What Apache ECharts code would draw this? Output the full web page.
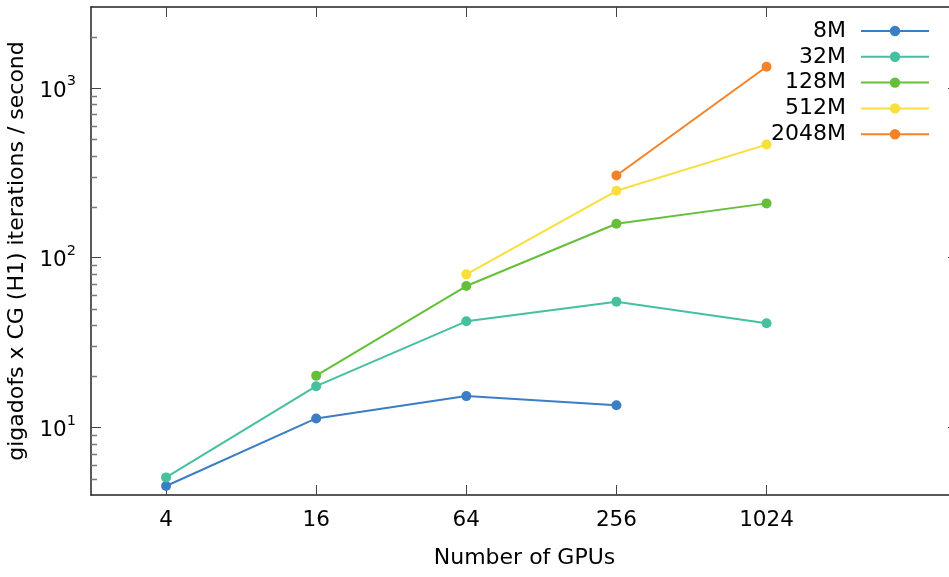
<!DOCTYPE html>
<html><head><meta charset="utf-8">
<script src="https://cdn.jsdelivr.net/npm/echarts@6/dist/echarts.min.js"></script>
<style>html,body{margin:0;padding:0;background:#fff}#c{width:949px;height:577px}</style>
</head><body><div id="c"></div>
<script>
// ---- data ----
const gpus = [4, 16, 64, 256, 1024];
const seriesNames = ['8M', '32M', '128M', '512M', '2048M'];
const v8M    = [4.52, 11.3, 15.3, 13.5, null];
const v32M   = [5.08, 17.5, 42.2, 55.1, 41.1];
const v128M  = [null, 20.2, 68.1, 158.5, 209];
const v512M  = [null, null, 79.8, 248, 464];
const v2048M = [null, null, null, 305, 1334];
const xTickValues = [4, 16, 64, 256, 1024];
const yMajorTicks = [10, 100, 1000];
const yMinorTicks = [5, 6, 7, 8, 9, 20, 30, 40, 50, 60, 70, 80, 90, 200, 300, 400, 500, 600, 700, 800, 900, 2000];
const xTitle = 'Number of GPUs';
const yTitle = 'gigadofs x CG (H1) iterations / second';

const allValues = [v8M, v32M, v128M, v512M, v2048M];
const colors = ['#3b7ec6', '#45c0a0', '#66bf3b', '#f8df3c', '#f58226'];

const X_MIN = 2, X_MAX = 6000, Y_MIN = 4, Y_MAX = 3000;
const FONT = 'DejaVu Sans';

const chart = echarts.init(document.getElementById('c'), null, {renderer: 'canvas'});

const lineSeries = seriesNames.map((name, i) => ({
  name: name,
  type: 'line',
  xAxisIndex: 0, yAxisIndex: 0,
  data: gpus.map((g, j) => allValues[i][j] == null ? null : [g, allValues[i][j]]).filter(d => d),
  symbol: 'circle',
  symbolSize: 10,
  showSymbol: true,
  lineStyle: {width: 2, color: colors[i]},
  itemStyle: {color: colors[i]},
  emphasis: {disabled: true},
  animation: false,
  z: 3
}));

const minorTickSeries = {
  type: 'custom',
  xAxisIndex: 0, yAxisIndex: 0,
  data: yMinorTicks.map(v => [X_MIN, v]),
  encode: {x: 0, y: 1},
  clip: false,
  silent: true,
  animation: false,
  renderItem: function (params, api) {
    const cs = params.coordSys;
    const y = Math.round(api.coord([X_MIN, api.value(1)])[1]) + 0.5;
    const st = {stroke: '#777', lineWidth: 1.5};
    return {type: 'group', children: [
      {type: 'line', shape: {x1: cs.x, y1: y, x2: cs.x + 6, y2: y}, style: st},
      {type: 'line', shape: {x1: cs.x + cs.width, y1: y, x2: cs.x + cs.width - 6, y2: y}, style: st}
    ]};
  }
};

const axisLineStyle = {color: '#222', width: 1.5};
const tickStyle = {color: '#444', width: 1};

chart.setOption({
  animation: false,
  backgroundColor: '#fff',
  textStyle: {fontFamily: FONT},
  grid: {left: 91, top: 7, width: 867, height: 488, containLabel: false, outerBoundsMode: 'none'},
  legend: {
    data: seriesNames,
    orient: 'vertical',
    right: 19, top: 20,
    padding: 0,
    align: 'right',
    itemWidth: 68, itemHeight: 13, itemGap: 3.8,
    selectedMode: false,
    textStyle: {fontFamily: FONT, fontSize: 22, color: '#000', lineHeight: 21, padding: [0, 10, 0, 0]}
  },
  xAxis: [{
    type: 'log', logBase: 4, min: X_MIN, max: X_MAX, position: 'bottom',
    name: xTitle, nameLocation: 'middle', nameGap: 52,
    nameTextStyle: {fontFamily: FONT, fontSize: 22, color: '#000'},
    axisLine: {show: true, lineStyle: axisLineStyle},
    axisTick: {show: true, inside: true, length: 10, lineStyle: tickStyle, customValues: xTickValues},
    axisLabel: {show: true, margin: 14, fontFamily: FONT, fontSize: 21.5, color: '#000', customValues: xTickValues, formatter: v => String(Math.round(v))},
    splitLine: {show: false}, minorTick: {show: false}
  }, {
    type: 'log', logBase: 4, min: X_MIN, max: X_MAX, position: 'top',
    axisLine: {show: true, lineStyle: axisLineStyle},
    axisTick: {show: true, inside: true, length: 10, lineStyle: tickStyle, customValues: xTickValues},
    axisLabel: {show: false},
    splitLine: {show: false}
  }],
  yAxis: [{
    type: 'log', logBase: 10, min: Y_MIN, max: Y_MAX, position: 'left',
    name: yTitle, nameLocation: 'middle', nameGap: 57, nameRotate: 90,
    nameTextStyle: {fontFamily: FONT, fontSize: 22, color: '#000'},
    axisLine: {show: true, lineStyle: axisLineStyle},
    axisTick: {show: true, inside: true, length: 10, lineStyle: tickStyle, customValues: yMajorTicks},
    axisLabel: {
      show: true, margin: 15, customValues: yMajorTicks,
      formatter: v => '{b|10}{s|' + Math.round(Math.log10(v)) + '}',
      rich: {
        b: {fontFamily: FONT, fontSize: 21.5, color: '#000', padding: [6, 0, 0, 0]},
        s: {fontFamily: FONT, fontSize: 14.5, color: '#000', verticalAlign: 'top'}
      }
    },
    splitLine: {show: false}
  }, {
    type: 'log', logBase: 10, min: Y_MIN, max: Y_MAX, position: 'right',
    axisLine: {show: true, lineStyle: axisLineStyle},
    axisTick: {show: true, inside: true, length: 10, lineStyle: tickStyle, customValues: yMajorTicks},
    axisLabel: {show: false},
    splitLine: {show: false}
  }],
  series: [minorTickSeries].concat(lineSeries)
});
</script>
</body></html>
